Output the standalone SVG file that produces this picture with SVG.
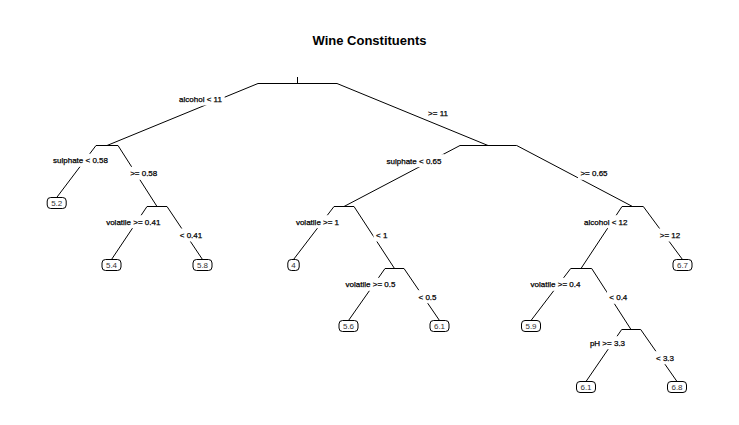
<svg xmlns="http://www.w3.org/2000/svg" width="739" height="425" viewBox="0 0 739 425">
<style>
.bg{fill:#fff}
.br{stroke:#000;stroke-width:1;fill:none}
.lb rect{fill:#fff;stroke:none}
.lb text{font-family:"Liberation Sans",Arial,sans-serif;font-size:8px;fill:#000;stroke:#000;stroke-width:0.25;text-anchor:middle}
.leaf rect{fill:#fff;stroke:#000;stroke-width:1}
.leaf text{font-family:"Liberation Sans",Arial,sans-serif;font-size:8px;fill:#333;text-anchor:middle}
.title{font-family:"Liberation Sans",Arial,sans-serif;font-size:13px;font-weight:bold;fill:#000;text-anchor:middle}
</style>
<rect class="bg" x="0" y="0" width="739" height="425"/>
<text class="title" x="369.5" y="44.7">Wine Constituents</text>
<g id="connectors">
<g class="br">
<line x1="258" y1="83.5" x2="107" y2="145.5"/>
<line x1="337" y1="83.5" x2="488" y2="145.5"/>
<line x1="96" y1="145.5" x2="56.7" y2="197.5"/>
<line x1="118" y1="145.5" x2="157" y2="206.5"/>
<line x1="147" y1="206.5" x2="111.5" y2="259.5"/>
<line x1="167" y1="206.5" x2="202.5" y2="259.5"/>
<line x1="460" y1="145.5" x2="344" y2="206.5"/>
<line x1="516.7" y1="145.5" x2="632.5" y2="206.5"/>
<line x1="334" y1="206.5" x2="293.5" y2="259.5"/>
<line x1="354" y1="206.5" x2="394.5" y2="268.5"/>
<line x1="385" y1="268.5" x2="348.5" y2="320.5"/>
<line x1="404" y1="268.5" x2="439.5" y2="320.5"/>
<line x1="622" y1="206.5" x2="581" y2="268.5"/>
<line x1="643.3" y1="206.5" x2="682.5" y2="259.5"/>
<line x1="570.7" y1="268.5" x2="531" y2="320.5"/>
<line x1="591.7" y1="268.5" x2="631" y2="329.5"/>
<line x1="621.7" y1="329.5" x2="586" y2="381.5"/>
<line x1="640.7" y1="329.5" x2="677" y2="381.5"/>
</g>
<g class="lb">
<rect x="176.3" y="92.5" width="48.4" height="13"/><text x="200.5" y="102">alcohol &lt; 11</text>
<rect x="425.5" y="106.2" width="25" height="12.5"/><text x="438" y="115.7">&gt;= 11</text>
<rect x="50.5" y="153.8" width="60" height="13"/><text x="80.5" y="163.3">sulphate &lt; 0.58</text>
<rect x="127.6" y="166.8" width="32.2" height="13"/><text x="143.7" y="176.3">&gt;= 0.58</text>
<rect x="103.7" y="215.2" width="59.3" height="13"/><text x="133.3" y="224.7">volatile &gt;= 0.41</text>
<rect x="177.2" y="228.5" width="27.6" height="13"/><text x="191" y="238">&lt; 0.41</text>
<rect x="384" y="154.2" width="60" height="13"/><text x="414" y="163.7">sulphate &lt; 0.65</text>
<rect x="577.9" y="166.8" width="32.2" height="13"/><text x="594" y="176.3">&gt;= 0.65</text>
<rect x="293.4" y="215.2" width="48.2" height="13"/><text x="317.5" y="224.7">volatile &gt;= 1</text>
<rect x="373.5" y="228.5" width="16.4" height="13"/><text x="381.7" y="238">&lt; 1</text>
<rect x="343.1" y="277.8" width="54.8" height="13"/><text x="370.5" y="287.3">volatile &gt;= 0.5</text>
<rect x="416" y="290.2" width="23" height="13"/><text x="427.5" y="299.7">&lt; 0.5</text>
<rect x="581.6" y="215.2" width="48.4" height="13"/><text x="605.8" y="224.7">alcohol &lt; 12</text>
<rect x="657.5" y="228.5" width="25" height="13"/><text x="670" y="238">&gt;= 12</text>
<rect x="528.1" y="277.8" width="54.8" height="13"/><text x="555.5" y="287.3">volatile &gt;= 0.4</text>
<rect x="606.8" y="290.8" width="23" height="13"/><text x="618.3" y="300.3">&lt; 0.4</text>
<rect x="587.4" y="336.2" width="40.2" height="13"/><text x="607.5" y="345.7">pH &gt;= 3.3</text>
<rect x="653.5" y="351.2" width="23" height="13"/><text x="665" y="360.7">&lt; 3.3</text>
</g>
</g>
<g id="n1" class="br"><line x1="258" y1="83.5" x2="337" y2="83.5"/><line x1="297.5" y1="77" x2="297.5" y2="83.5"/></g>
<g id="n2" class="br"><line x1="96" y1="145.5" x2="118" y2="145.5"/></g>
<g id="n4" class="br"><line x1="147" y1="206.5" x2="167" y2="206.5"/></g>
<g id="n3" class="br"><line x1="460" y1="145.5" x2="516.7" y2="145.5"/></g>
<g id="n6" class="br"><line x1="334" y1="206.5" x2="354" y2="206.5"/></g>
<g id="n13" class="br"><line x1="385" y1="268.5" x2="404" y2="268.5"/></g>
<g id="n7" class="br"><line x1="622" y1="206.5" x2="643.3" y2="206.5"/></g>
<g id="n14" class="br"><line x1="570.7" y1="268.5" x2="591.7" y2="268.5"/></g>
<g id="n29" class="br"><line x1="621.7" y1="329.5" x2="640.7" y2="329.5"/></g>
<g id="leaf-5-2" class="leaf"><rect x="47.2" y="197.5" width="19" height="11" rx="3.5"/><text x="56.7" y="205.8">5.2</text></g>
<g id="leaf-5-4" class="leaf"><rect x="102" y="259.5" width="19" height="11" rx="3.5"/><text x="111.5" y="267.8">5.4</text></g>
<g id="leaf-5-8" class="leaf"><rect x="193" y="259.5" width="19" height="11" rx="3.5"/><text x="202.5" y="267.8">5.8</text></g>
<g id="leaf-4" class="leaf"><rect x="287.8" y="259.5" width="11.4" height="11" rx="3.5"/><text x="293.5" y="267.8">4</text></g>
<g id="leaf-5-6" class="leaf"><rect x="339" y="320.5" width="19" height="11" rx="3.5"/><text x="348.5" y="328.8">5.6</text></g>
<g id="leaf-6-1a" class="leaf"><rect x="430" y="320.5" width="19" height="11" rx="3.5"/><text x="439.5" y="328.8">6.1</text></g>
<g id="leaf-5-9" class="leaf"><rect x="521.5" y="320.5" width="19" height="11" rx="3.5"/><text x="531" y="328.8">5.9</text></g>
<g id="leaf-6-1b" class="leaf"><rect x="576.5" y="381.5" width="19" height="11" rx="3.5"/><text x="586" y="389.8">6.1</text></g>
<g id="leaf-6-8" class="leaf"><rect x="667.5" y="381.5" width="19" height="11" rx="3.5"/><text x="677" y="389.8">6.8</text></g>
<g id="leaf-6-7" class="leaf"><rect x="673" y="259.5" width="19" height="11" rx="3.5"/><text x="682.5" y="267.8">6.7</text></g>
</svg>
